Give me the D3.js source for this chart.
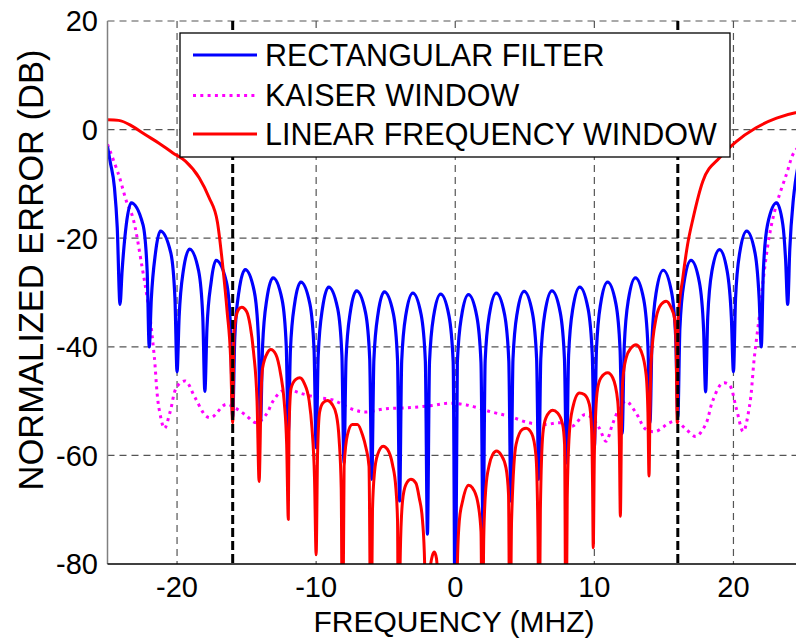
<!DOCTYPE html>
<html>
<head>
<meta charset="utf-8">
<script src="https://cdn.jsdelivr.net/npm/d3@7"></script>
<style>
  body { margin: 0; background: #fff; }
  svg { display: block; font-family: Arial, "Liberation Sans", sans-serif; }
</style>
</head>
<body>
<div id="chart"></div>
<script>
// axis ticks
const xTicks = [-20, -10, 0, 10, 20];
const yTicks = [20, 0, -20, -40, -60, -80];
const bandEdges = [-16, 16];

const seriesNames = ['RECTANGULAR FILTER', 'KAISER WINDOW', 'LINEAR FREQUENCY WINDOW'];

// [frequency MHz, normalized error dB]
const rectangularFilter = [
  [-25, -3.1], [-24.8, -6], [-24.5, -10.7], [-24.3, -18], [-24.1, -32.2],
  [-23.95, -26], [-23.65, -17.5], [-23.3, -13.5], [-22.45, -17.5], [-22.15, -26], [-22, -40],
  [-21.85, -31.2], [-21.55, -22.7], [-21.2, -18.7], [-20.45, -22.7], [-20.15, -31.2], [-20, -44.6],
  [-19.85, -34.5], [-19.55, -26], [-19.1, -22], [-18.45, -26], [-18.15, -34.5], [-18, -48.2],
  [-17.85, -36.6], [-17.55, -28.1], [-17.2, -24.1], [-16.45, -28.1], [-16.15, -36.6], [-16, -53],
  [-15.85, -38.3], [-15.55, -29.8], [-15.1, -25.8], [-14.45, -29.8], [-14.15, -38.3], [-14, -54],
  [-13.85, -39.8], [-13.55, -31.3], [-13.1, -27.3], [-12.45, -31.3], [-12.15, -39.8], [-12, -55.8],
  [-11.85, -40.6], [-11.55, -32.1], [-11.1, -28.1], [-10.45, -32.1], [-10.15, -40.6], [-10, -58.6],
  [-9.85, -41.5], [-9.55, -33], [-9.1, -29], [-8.45, -33], [-8.15, -41.5], [-8, -61.4],
  [-7.85, -42.2], [-7.55, -33.7], [-7.1, -29.7], [-6.45, -33.7], [-6.15, -42.2], [-6, -64.4],
  [-5.85, -42.4], [-5.55, -33.9], [-5.1, -29.9], [-4.45, -33.9], [-4.15, -42.4], [-4, -68.4],
  [-3.85, -42.6], [-3.55, -34.1], [-3.05, -30.1], [-2.45, -34.1], [-2.15, -42.6], [-2, -74.5],
  [-1.85, -42.8], [-1.55, -34.3], [-1.05, -30.3], [-0.45, -34.3], [-0.15, -42.8], [0, -95],
  [0.15, -42.9], [0.45, -34.4], [0.95, -30.4], [1.55, -34.4], [1.85, -42.9], [2, -74.5],
  [2.15, -42.6], [2.45, -34.1], [2.95, -30.1], [3.55, -34.1], [3.85, -42.6], [4, -68.4],
  [4.15, -42.3], [4.45, -33.8], [4.95, -29.8], [5.55, -33.8], [5.85, -42.3], [6, -64.4],
  [6.15, -42.2], [6.45, -33.7], [6.95, -29.7], [7.55, -33.7], [7.85, -42.2], [8, -61.4],
  [8.15, -41.5], [8.45, -33], [8.95, -29], [9.55, -33], [9.85, -41.5], [10, -58.6],
  [10.15, -40.6], [10.45, -32.1], [10.95, -28.1], [11.55, -32.1], [11.85, -40.6], [12, -56],
  [12.15, -39.8], [12.45, -31.3], [12.95, -27.3], [13.55, -31.3], [13.85, -39.8], [14, -54],
  [14.15, -38.4], [14.45, -29.9], [14.95, -25.9], [15.55, -29.9], [15.85, -38.4], [16, -53],
  [16.15, -36.6], [16.45, -28.1], [16.95, -24.1], [17.55, -28.1], [17.85, -36.6], [18, -48.3],
  [18.15, -34.6], [18.45, -26.1], [19, -22.1], [19.55, -26.1], [19.85, -34.6], [20, -44.6],
  [20.15, -31.2], [20.45, -22.7], [20.95, -18.7], [21.55, -22.7], [21.85, -31.2], [22, -40],
  [22.15, -26], [22.45, -17.5], [23.1, -13.5], [23.55, -17.5], [23.75, -24], [23.9, -32.2],
  [24.05, -22], [24.3, -13], [24.45, -9.7], [24.7, -6], [25, -3]
];

const kaiserWindow = [
  [-25, -2.7], [-24.2, -8.3], [-23.6, -13.5], [-23.2, -16], [-22.5, -25.5], [-22, -33.5],
  [-21.65, -41.4], [-21.3, -51.3], [-20.9, -55], [-20.5, -52], [-20, -47.3], [-19.4, -46.3],
  [-18.7, -49.4], [-17.9, -52.8], [-17.5, -53], [-16.5, -50.6], [-15.8, -51.3], [-15.1, -52.5],
  [-14.3, -54], [-13.6, -52.5], [-13.1, -50], [-12.5, -48.2], [-11.9, -47.9], [-11.2, -48.5],
  [-10, -49.3], [-8.8, -49.8], [-7.4, -51.5], [-6.5, -52], [-5, -51.4], [-3.2, -51.2],
  [-1.6, -50.8], [-0.5, -50.4], [0.8, -50.7], [2.6, -52], [3.9, -52.8], [5.3, -54],
  [6.5, -54.3], [7.5, -54], [8.44, -54.6], [9.28, -52.5], [9.8, -53], [10.36, -55],
  [10.84, -57.4], [11.3, -54.3], [11.8, -51.3], [12.28, -50], [13, -52.2], [13.7, -55.2],
  [14.4, -55.6], [15.4, -54], [15.9, -53.7], [16.6, -55.2], [17.3, -56.5], [18, -54.3],
  [18.5, -50], [19.2, -46.7], [19.7, -47], [20.2, -51.3], [20.7, -55.6], [21.15, -51],
  [21.5, -42], [21.9, -33.5], [22.1, -28.5], [22.6, -19.3], [23.07, -14], [23.8, -8.3],
  [24.4, -4], [25, -2.7]
];

const linearFrequencyWindow = [
  [-25, 1.8], [-24.2, 1.7], [-23.2, 0.6], [-22.3, -0.9], [-21.3, -2.5], [-20.3, -4.3],
  [-19.4, -5.8], [-18.4, -8.9], [-17.7, -12.5], [-17.1, -17], [-16.7, -25.5], [-16.4, -33.5],
  [-16.15, -42], [-16, -54],
  [-15.9, -37], [-15.6, -33.2], [-15.35, -32.7], [-15, -33.5], [-14.75, -36], [-14.5, -41], [-14.25, -50], [-14.1, -64.8],
  [-13.95, -48], [-13.85, -43.9], [-13.5, -41.1], [-13.26, -40.5], [-12.9, -41.4], [-12.55, -45.1], [-12.3, -50], [-12.12, -58], [-12, -71.8],
  [-11.95, -55], [-11.8, -47.6], [-11.46, -46], [-11.17, -45.7], [-10.86, -46.7], [-10.5, -50], [-10.3, -55], [-10.12, -64], [-10, -78.3],
  [-9.9, -60], [-9.75, -52], [-9.5, -50.3], [-9.2, -49.9], [-8.85, -50.6], [-8.55, -52.5], [-8.35, -57], [-8.2, -66], [-8.1, -100],
  [-7.99, -62], [-7.75, -56.2], [-7.4, -54.3], [-7.03, -54.3], [-6.67, -56.2], [-6.42, -58.6], [-6.2, -62], [-6.06, -100],
  [-5.95, -70], [-5.8, -63], [-5.59, -59.9], [-5.18, -58.3], [-4.87, -58.9], [-4.51, -61.7], [-4.27, -66], [-4.15, -72], [-4.08, -100],
  [-3.95, -78], [-3.79, -68.4], [-3.55, -65.4], [-3.19, -64.4], [-2.83, -65.1], [-2.59, -67.8], [-2.35, -72.1], [-2.2, -80], [-2.1, -95],
  [-1.85, -82], [-1.65, -78.5], [-1.5, -77.8], [-1.35, -79], [-1.2, -85], [-1, -100], [-0.5, -110], [0, -100],
  [0.17, -78.3], [0.29, -72.1], [0.53, -68.4], [0.96, -65.5], [1.24, -66], [1.6, -68.4], [1.85, -74], [1.95, -100],
  [2.05, -75], [2.2, -66], [2.45, -61.7], [2.68, -59.9], [2.97, -59.2], [3.29, -59.9], [3.65, -62.3], [3.83, -67.2], [3.93, -100],
  [4.05, -72], [4.37, -58], [4.84, -55.2], [5.1, -55], [5.5, -56], [5.8, -60], [5.95, -75], [6.02, -100],
  [6.12, -70], [6.3, -56], [6.52, -53.1], [7, -51.7], [7.36, -52.2], [7.72, -54.3], [7.86, -58], [7.96, -100],
  [8.05, -68], [8.2, -56], [8.44, -51.3], [8.92, -48.5], [9.28, -48.8], [9.64, -50.6], [9.8, -55], [9.87, -65], [9.92, -77],
  [10, -60], [10.1, -52], [10.24, -47.6], [10.48, -45.7], [10.96, -44.8], [11.32, -45.7], [11.68, -50], [11.8, -58], [11.87, -71.2],
  [11.95, -55], [12.04, -46.3], [12.28, -42.1], [12.64, -40.2], [13, -39.6], [13.36, -40.8], [13.72, -45.1], [13.85, -52], [13.93, -63.8],
  [14, -52], [14.08, -42.7], [14.44, -34.7], [14.8, -32.2], [15.16, -31.6], [15.52, -32.8], [15.76, -34.7], [15.88, -40], [15.96, -54],
  [16.03, -34.7], [16.36, -27.3], [16.7, -21.2], [17.1, -16.3], [17.8, -9.5], [19, -5.2], [20.2, -2.2],
  [21.6, 0.3], [23.1, 2.1], [24.45, 3.1], [25, 3.3]
];

const width = 796, height = 638;
const plotLeft = 107.5, plotRight = 803, plotTop = 21, plotBottom = 564;

const svg = d3.select('#chart').append('svg')
  .attr('width', width)
  .attr('height', height);

const x = d3.scaleLinear().domain([-25, 25]).range([plotLeft, plotRight]);
const y = d3.scaleLinear().domain([-80, 20]).range([plotBottom, plotTop]);

svg.append('defs').append('clipPath').attr('id', 'plot-clip')
  .append('rect')
  .attr('x', plotLeft).attr('y', plotTop)
  .attr('width', plotRight - plotLeft).attr('height', plotBottom - plotTop);

// grid
const grid = svg.append('g').attr('stroke', '#555').attr('stroke-width', 1.2).attr('stroke-dasharray', '7,5');
grid.selectAll('line.v').data(xTicks).enter().append('line')
  .attr('x1', d => x(d)).attr('x2', d => x(d))
  .attr('y1', plotTop).attr('y2', plotBottom);
grid.selectAll('line.h').data(yTicks.filter(d => d > -80)).enter().append('line')
  .attr('x1', plotLeft).attr('x2', plotRight)
  .attr('y1', d => y(d)).attr('y2', d => y(d));

// curves
const line = d3.line()
  .x(d => x(d[0]))
  .y(d => y(d[1]))
  .curve(d3.curveMonotoneX);

const curves = svg.append('g').attr('clip-path', 'url(#plot-clip)').attr('fill', 'none');

curves.append('path')
  .datum(kaiserWindow)
  .attr('d', line.curve(d3.curveCatmullRom.alpha(0.5)))
  .attr('stroke', '#ff00ff')
  .attr('stroke-width', 3)
  .attr('stroke-dasharray', '3,4.3');

line.curve(d3.curveMonotoneX);

curves.append('path')
  .datum(rectangularFilter)
  .attr('d', line)
  .attr('stroke', '#0000ff')
  .attr('stroke-width', 3.2)
  .attr('stroke-linejoin', 'round');

curves.append('path')
  .datum(linearFrequencyWindow)
  .attr('d', line)
  .attr('stroke', '#ff0000')
  .attr('stroke-width', 3)
  .attr('stroke-linejoin', 'round');

// band edge markers
svg.append('g').selectAll('line').data(bandEdges).enter().append('line')
  .attr('x1', d => x(d)).attr('x2', d => x(d))
  .attr('y1', plotTop).attr('y2', plotBottom)
  .attr('stroke', '#000')
  .attr('stroke-width', 3)
  .attr('stroke-dasharray', '9,4');

// axes
svg.append('line')
  .attr('x1', plotLeft).attr('x2', plotLeft)
  .attr('y1', plotTop).attr('y2', plotBottom)
  .attr('stroke', '#808080').attr('stroke-width', 1.5);
svg.append('line')
  .attr('x1', plotLeft).attr('x2', plotRight)
  .attr('y1', plotBottom).attr('y2', plotBottom)
  .attr('stroke', '#000').attr('stroke-width', 1.3);

svg.append('g').selectAll('text').data(xTicks).enter().append('text')
  .attr('x', d => x(d))
  .attr('y', 597)
  .attr('text-anchor', 'middle')
  .attr('font-size', 29)
  .text(d => d);

svg.append('g').selectAll('text').data(yTicks).enter().append('text')
  .attr('x', 98)
  .attr('y', d => y(d))
  .attr('dy', '0.36em')
  .attr('text-anchor', 'end')
  .attr('font-size', 29)
  .text(d => d);

svg.append('text')
  .attr('x', 454)
  .attr('y', 632)
  .attr('text-anchor', 'middle')
  .attr('font-size', 30)
  .text('FREQUENCY (MHZ)');

svg.append('text')
  .attr('transform', 'translate(43,270) rotate(-90)')
  .attr('text-anchor', 'middle')
  .attr('font-size', 34.5)
  .text('NORMALIZED ERROR (DB)');

// legend
const legend = svg.append('g');
legend.append('rect')
  .attr('x', 180).attr('y', 33)
  .attr('width', 550).attr('height', 124)
  .attr('fill', '#fff')
  .attr('stroke', '#000')
  .attr('stroke-width', 1.3);

const legendStyles = [
  { color: '#0000ff', dash: null },
  { color: '#ff00ff', dash: '3,4.3' },
  { color: '#ff0000', dash: null }
];
const legendRows = [55, 95.5, 134];

seriesNames.forEach((name, i) => {
  legend.append('line')
    .attr('x1', 193).attr('x2', 257)
    .attr('y1', legendRows[i]).attr('y2', legendRows[i])
    .attr('stroke', legendStyles[i].color)
    .attr('stroke-width', 3)
    .attr('stroke-dasharray', legendStyles[i].dash);
  legend.append('text')
    .attr('x', 265)
    .attr('y', legendRows[i] + 10.5)
    .attr('font-size', 30.5)
    .text(name);
});
</script>
</body>
</html>
